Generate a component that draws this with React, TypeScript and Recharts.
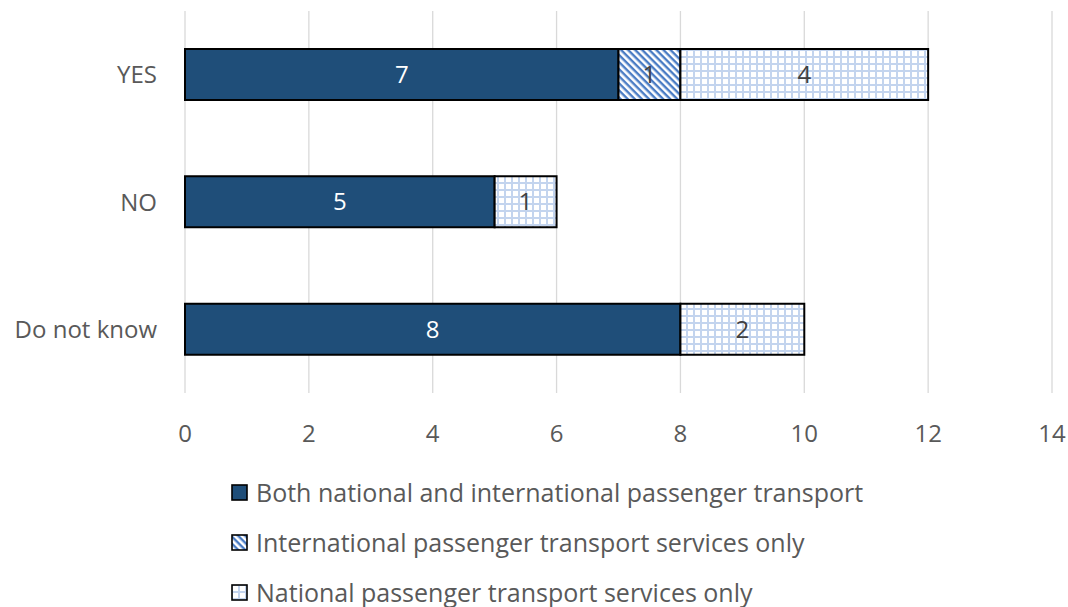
import React from "react";
import {
  BarChart,
  Bar,
  XAxis,
  YAxis,
  CartesianGrid,
  LabelList,
  Legend,
} from "recharts";

const categories = ["YES", "NO", "Do not know"];
const bothValues = [7, 5, 8];
const internationalValues = [1, null, null];
const nationalValues = [4, 1, 2];
const xTicks = [0, 2, 4, 6, 8, 10, 12, 14];

const seriesNames = [
  "Both national and international passenger transport",
  "International passenger transport services only",
  "National passenger transport services only",
];

const data = categories.map((name, i) => ({
  name,
  both: bothValues[i],
  international: internationalValues[i],
  national: nationalValues[i],
}));

const FONT = "'Open Sans', sans-serif";
const DARK = "#1f4e79";

const Patterns = () => (
  <svg width={0} height={0} style={{ position: "absolute" }}>
    <defs>
      <pattern
        id="diagStripes"
        patternUnits="userSpaceOnUse"
        width={5}
        height={5}
        patternTransform="rotate(45)"
      >
        <rect width={5} height={5} fill="#ffffff" />
        <rect width={5} height={2.4} fill="#4a7cc4" />
      </pattern>
      <pattern
        id="lightGrid"
        patternUnits="userSpaceOnUse"
        width={7}
        height={7}
      >
        <rect width={7} height={7} fill="#ffffff" />
        <rect x={0} y={0} width={7} height={2} fill="#c3d4ee" />
        <rect x={0} y={0} width={2} height={7} fill="#c3d4ee" />
      </pattern>
    </defs>
  </svg>
);

const legendFills = [DARK, "url(#diagStripes)", "url(#lightGrid)"];

const LegendContent = () => (
  <div style={{ position: "absolute", left: 231, top: 12 }}>
    {seriesNames.map((n, i) => (
      <div
        key={n}
        style={{
          display: "flex",
          alignItems: "center",
          height: 50,
          fontFamily: FONT,
          fontSize: 25,
          color: "#595959",
          whiteSpace: "nowrap",
        }}
      >
        <svg width={17} height={17} style={{ marginRight: 8 }}>
          <rect
            x={1}
            y={1}
            width={15}
            height={15}
            fill={legendFills[i]}
            stroke="#000"
            strokeWidth={1.6}
          />
        </svg>
        {n}
      </div>
    ))}
  </div>
);

export default function App() {
  return (
    <div style={{ position: "absolute", left: 0, top: 0, width: 1068, height: 607, background: "#fff" }}>
      <Patterns />
      <BarChart
        width={1068}
        height={607}
        data={data}
        layout="vertical"
        margin={{ top: 11, right: 16, left: 0, bottom: 0 }}
        barCategoryGap={38}
      >
        <CartesianGrid horizontal={false} stroke="#d9d9d9" strokeWidth={1.3} />
        <XAxis
          type="number"
          domain={[0, 14]}
          ticks={xTicks}
          axisLine={false}
          tickLine={false}
          height={62}
          tickMargin={26}
          tick={{ fill: "#595959", fontSize: 24, fontFamily: FONT }}
        />
        <YAxis
          type="category"
          dataKey="name"
          width={185}
          axisLine={false}
          tickLine={false}
          tickMargin={22}
          tick={{ fill: "#595959", fontSize: 24, fontFamily: FONT }}
        />
        <Legend
          verticalAlign="bottom"
          height={152}
          content={<LegendContent />}
          wrapperStyle={{ left: 0, bottom: 0, width: 1068 }}
        />
        <Bar dataKey="both" stackId="s" fill={DARK} stroke="#000" strokeWidth={2} isAnimationActive={false}>
          <LabelList dataKey="both" position="center" fill="#ffffff" fontSize={24} fontFamily={FONT} />
        </Bar>
        <Bar dataKey="international" stackId="s" fill="url(#diagStripes)" stroke="#000" strokeWidth={2} isAnimationActive={false}>
          <LabelList dataKey="international" position="center" fill="#404040" fontSize={24} fontFamily={FONT} />
        </Bar>
        <Bar dataKey="national" stackId="s" fill="url(#lightGrid)" stroke="#000" strokeWidth={2} isAnimationActive={false}>
          <LabelList dataKey="national" position="center" fill="#404040" fontSize={24} fontFamily={FONT} />
        </Bar>
      </BarChart>
    </div>
  );
}
